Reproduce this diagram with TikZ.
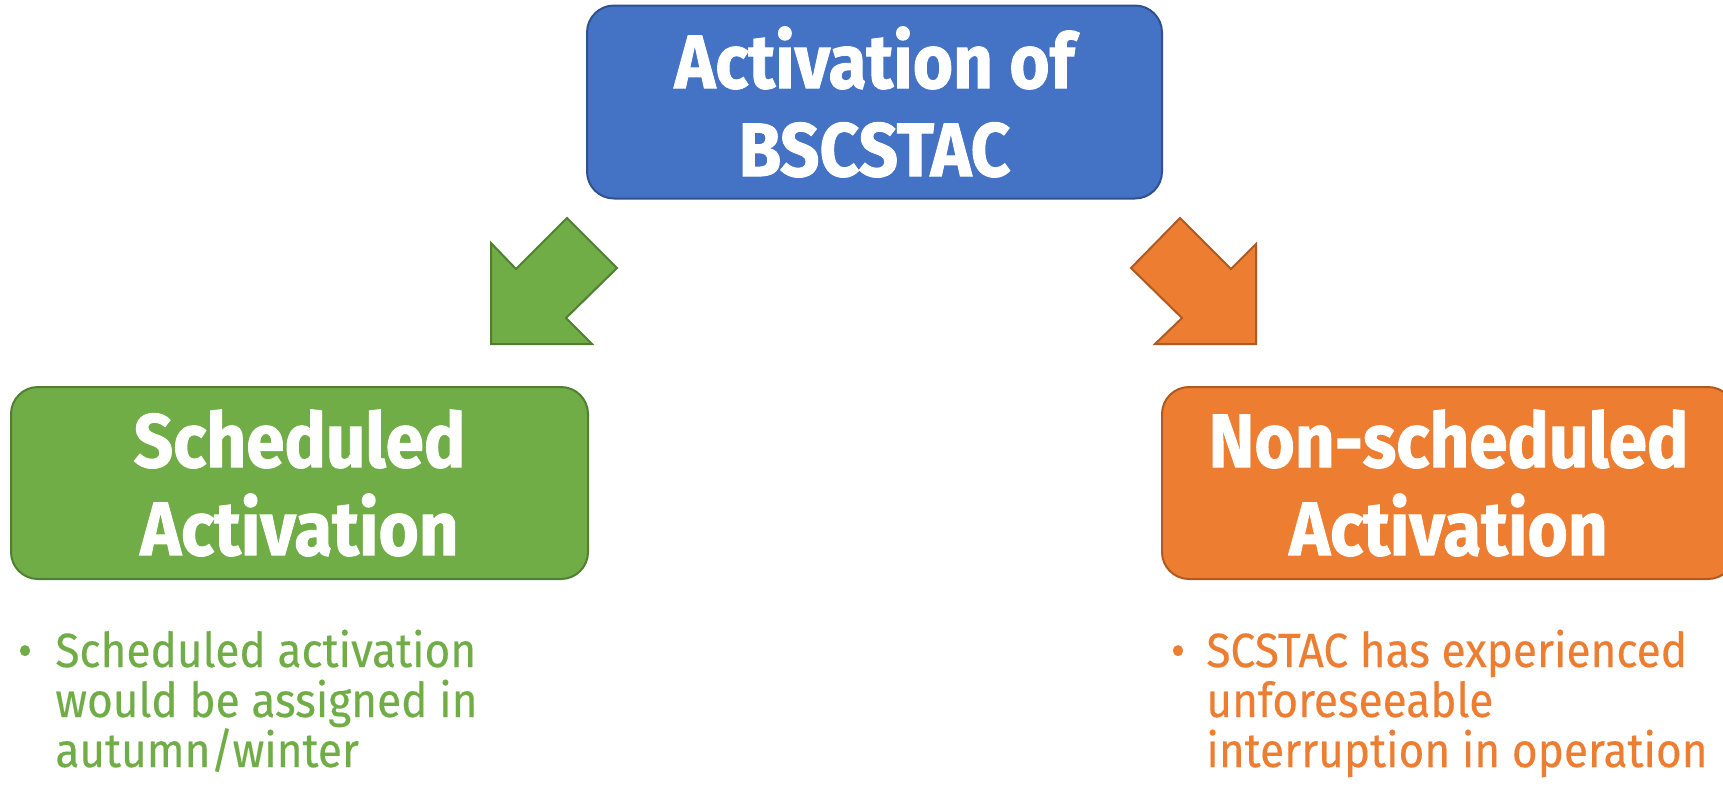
\documentclass[tikz,border=0pt]{standalone}
\usepackage{fontspec}
\setmainfont{Fira Sans}
\newfontfamily\headfont[FakeStretch=0.91,FakeBold=1.2]{Fira Sans}
\newfontfamily\bodyfont[FakeStretch=0.92,FakeBold=0.3]{Fira Sans}
\definecolor{bluefill}{HTML}{4472C4}
\definecolor{blueline}{HTML}{2F528F}
\definecolor{greenfill}{HTML}{70AD47}
\definecolor{greenline}{HTML}{507E32}
\definecolor{orangefill}{HTML}{ED7D31}
\definecolor{orangeline}{HTML}{AE5A21}
\tikzset{
  box/.style={rounded corners=13.5pt, line width=1pt, inner sep=0pt, align=center,
    text=white, font=\headfont\bfseries\fontsize{38}{44}\selectfont},
  bodyline/.style={anchor=base west, inner sep=0pt,
    font=\bodyfont\fontsize{24}{25}\selectfont},
  bulletdot/.style={anchor=base, inner sep=0pt, font=\bodyfont\fontsize{24}{25}\selectfont},
  bigarrow/.style={line width=1pt, line join=miter}
}
\begin{document}
\begin{tikzpicture}[x=0.5pt,y=-0.5pt]
\useasboundingbox (0,0) rectangle (1723,789);
% top box
\node[box, draw=blueline, fill=bluefill, minimum width=287.5pt, minimum height=96.5pt]
  (top) at (874.5,102) {Activation of\\BSCSTAC};
% left box
\node[box, draw=greenline, fill=greenfill, minimum width=288.5pt, minimum height=96pt]
  (left) at (299.5,483) {Scheduled\\Activation};
% right box
\node[box, draw=orangeline, fill=orangefill, minimum width=286.5pt, minimum height=96pt]
  (right) at (1448.5,483) {Non-scheduled\\Activation};
% green arrow
\filldraw[bigarrow, draw=greenline, fill=greenfill]
  (491,243) -- (516,269) -- (567,218) -- (617,268) -- (566,318) -- (592,344) -- (491,344) -- cycle;
% orange arrow
\filldraw[bigarrow, draw=orangeline, fill=orangefill]
  (1180,218) -- (1231,269) -- (1256,244) -- (1256,344) -- (1155,344) -- (1182,318) -- (1131,268) -- cycle;
% green bullet
\node[bulletdot, text=greenfill] (gb) at (25,667) {•};
\node[bodyline, text=greenfill] (g1) at (55,667) {Scheduled activation};
\node[bodyline, text=greenfill] (g2) at (55,717) {would be assigned in};
\node[bodyline, text=greenfill] (g3) at (55,767) {autumn/winter};
% orange bullet
\node[bulletdot, text=orangefill] (ob) at (1178,667) {•};
\node[bodyline, text=orangefill] (o1) at (1206,667) {SCSTAC has experienced};
\node[bodyline, text=orangefill] (o2) at (1206,717) {unforeseeable};
\node[bodyline, text=orangefill] (o3) at (1206,767) {interruption in operation};
\end{tikzpicture}
\end{document}
